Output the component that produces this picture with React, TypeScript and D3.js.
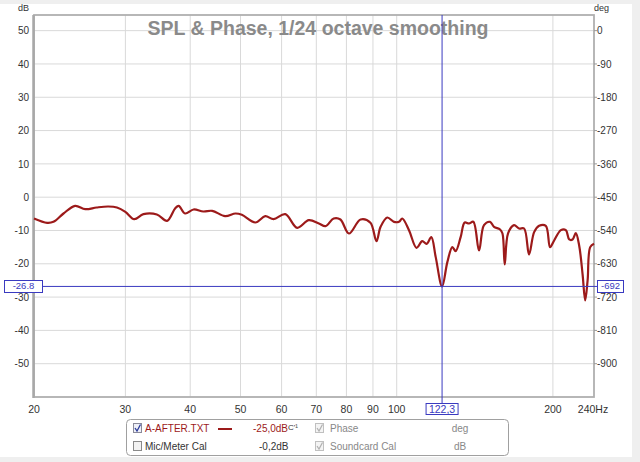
import React from 'react';
import * as d3 from 'd3';

const freqs = [20, 21.2, 21.8, 22.8, 24.0, 25.1, 26.4, 27.8, 28.9, 30.0, 31.2, 32.5, 34.5, 36.1, 37.4, 38.0, 39.1, 40.6, 42.4, 44.1, 46.7, 48.9, 50.3, 53.4, 55.8, 57.9, 61.0, 64.3, 67.7, 70.8, 72.9, 75.6, 77.9, 80.9, 85.2, 89.0, 91.4, 93.1, 95.9, 98.8, 101.0, 102.5, 105.6, 109.2, 112.0, 114.2, 116.6, 118.9, 122.3, 125.2, 128.0, 129.9, 132.8, 135.2, 137.8, 140.5, 144.1, 147.3, 151.3, 154.0, 158.2, 159.9, 161.5, 163.9, 168.3, 172.1, 176.0, 179.9, 184.0, 188.1, 193.8, 197.5, 201.1, 207.2, 211.8, 215.0, 218.2, 221.4, 224.7, 228.1, 230.8, 233.3, 236.0, 240];
const spl = [-6.4, -7.7, -7.4, -4.9, -2.6, -3.6, -3.1, -2.8, -3.1, -4.4, -6.6, -5.1, -5.2, -7.1, -3.4, -2.6, -4.9, -3.7, -4.3, -4.1, -5.7, -4.9, -5.3, -7.6, -5.7, -6.6, -5.1, -9.2, -6.9, -7.9, -8.7, -6.4, -6.7, -10.9, -6.7, -7.7, -13.2, -8.9, -6.1, -7.4, -7.4, -6.4, -9.9, -15.2, -13.2, -14.0, -12.0, -18.0, -26.8, -19.5, -15.0, -16.2, -12.0, -7.6, -7.9, -7.4, -16.0, -8.4, -7.4, -8.9, -9.7, -10.9, -20.2, -10.9, -8.4, -9.4, -9.4, -17.2, -10.5, -8.6, -8.6, -15.0, -13.0, -9.9, -9.9, -12.7, -12.7, -10.8, -14.5, -23.0, -31.0, -25.0, -15.0, -14.0];

const dbTicks = [50, 40, 30, 20, 10, 0, -10, -20, -30, -40, -50];
const degTicks = [0, -90, -180, -270, -360, -450, -540, -630, -720, -810, -900];
const freqGrid = [30, 40, 50, 60, 70, 80, 90, 100, 200];
const freqTicks = [20, 30, 40, 50, 60, 70, 80, 90, 100, 200, 240];
const freqLabels = ['20', '30', '40', '50', '60', '70', '80', '90', '100', '200', '240Hz'];

const cursorFreq = 122.3;
const cursorDb = -26.8;
const cursorDbLabel = '-26.8';
const cursorFreqLabel = '122,3';
const cursorDegLabel = '-692';

const title = 'SPL & Phase, 1/24 octave smoothing';

export default function App() {
  const L = 34, R = 594, T = 15, B = 397;
  const x = d3.scaleLog().domain([20, 240]).range([L, R]);
  const y = d3.scaleLinear().domain([-60, 54.7]).range([B, T]);
  const degToDb = (d: number) => 50 + d / 9;

  const pts: [number, number][] = freqs.map((f, i) => [x(f), y(spl[i])]);
  const line = d3.line().curve(d3.curveCatmullRom.alpha(0.5))(pts) || '';

  const font = '"Liberation Sans", Arial, sans-serif';
  const cx = x(cursorFreq);
  const cy = y(cursorDb);
  const blue = '#3a3ac0';
  const red = '#9c1a1a';

  return (
    <svg width={640} height={462} style={{ position: 'absolute', left: 0, top: 0 }} fontFamily={font}>
      <rect x={0} y={0} width={640} height={462} fill="#efefef" />
      <rect x={0} y={4} width={632} height={453} fill="#ffffff" />

      {/* grid */}
      {dbTicks.map((d) => (
        <line key={'h' + d} x1={L} x2={R} y1={y(d)} y2={y(d)} stroke="#d9d9d9" strokeWidth={1} />
      ))}
      {freqGrid.map((f) => (
        <line key={'v' + f} x1={x(f)} x2={x(f)} y1={T} y2={B} stroke="#d9d9d9" strokeWidth={1} />
      ))}

      {/* frame */}
      <rect x={L} y={T} width={R - L} height={B - T} fill="none" stroke="#b0b0b0" strokeWidth={1.8} />
      <line x1={L - 0.5} x2={L - 0.5} y1={T} y2={B + 1} stroke="#a8a8a8" strokeWidth={2.5} />

      {/* right ticks */}
      {degTicks.map((d) => (
        <line key={'rt' + d} x1={R} x2={R + 3} y1={y(degToDb(d))} y2={y(degToDb(d))} stroke="#999" strokeWidth={1} />
      ))}

      {/* title */}
      <text x={318} y={35} textAnchor="middle" fontSize={19.5} fontWeight="bold" fill="#8a8a8a">{title}</text>

      {/* axis labels */}
      <text x={29} y={11} textAnchor="end" fontSize={9} fill="#333">dB</text>
      <text x={594} y={11} textAnchor="start" fontSize={9} fill="#333">deg</text>
      {dbTicks.map((d) => (
        <text key={'yl' + d} x={29} y={y(d) + 3.7} textAnchor="end" fontSize={10} fill="#333">{d}</text>
      ))}
      {degTicks.map((d) => (
        <text key={'dl' + d} x={597} y={y(degToDb(d)) + 3.7} textAnchor="start" fontSize={10} fill="#333">{d}</text>
      ))}
      {freqTicks.map((f, i) => (
        <text key={'xl' + f} x={x(f) + (i === freqTicks.length - 1 ? -1 : 0)} y={413} textAnchor="middle" fontSize={10.5} fill="#333">{freqLabels[i]}</text>
      ))}

      {/* curve */}
      <path d={line} fill="none" stroke={red} strokeWidth={2.2} strokeLinejoin="round" />

      {/* cursor */}
      <line x1={cx} x2={cx} y1={T} y2={403} stroke={blue} strokeWidth={1} />
      <line x1={43} x2={597} y1={cy} y2={cy} stroke={blue} strokeWidth={1} />
      <rect x={4.5} y={280.5} width={38} height={12} fill="#fff" stroke={blue} strokeWidth={1} />
      <text x={23.5} y={289.3} textAnchor="middle" fontSize={9.5} fill={blue}>{cursorDbLabel}</text>
      <rect x={597.5} y={280.5} width={26} height={12} fill="#fff" stroke={blue} strokeWidth={1} />
      <text x={610.5} y={289.3} textAnchor="middle" fontSize={9.5} fill={blue}>{cursorDegLabel}</text>
      <rect x={cx - 16} y={403.5} width={32} height={11} fill="#fff" stroke={blue} strokeWidth={1} />
      <text x={cx} y={412.5} textAnchor="middle" fontSize={10.5} fill={blue}>{cursorFreqLabel}</text>

      {/* legend */}
      <rect x={126.5} y={419.5} width={382} height={36} rx={4} fill="#fff" stroke="#a0a0a0" strokeWidth={1} />
      <rect x={133.5} y={423.5} width={8} height={9} fill="#eef0f8" stroke="#8a8a9a" />
      <path d="M135,428 L137,431 L140.5,424.5" fill="none" stroke="#2a3a9a" strokeWidth={1.3} />
      <text x={145} y={432} fontSize={10} fill={red}>A-AFTER.TXT</text>
      <line x1={218} x2={232} y1={429} y2={429} stroke={red} strokeWidth={2} />
      <text x={253} y={432} fontSize={10} fill={red}>-25,0dB<tspan fill="#333" fontSize={8} dy={-2}>C'¹</tspan></text>
      <rect x={315.5} y={423.5} width={8} height={9} fill="#f4f4f4" stroke="#c0c0c0" />
      <path d="M317,428 L319,431 L322.5,424.5" fill="none" stroke="#b0b0b0" strokeWidth={1.2} />
      <text x={330} y={432} fontSize={10} fill="#888">Phase</text>
      <text x={460} y={432} textAnchor="middle" fontSize={10} fill="#888">deg</text>

      <rect x={133.5} y={441.5} width={8} height={9} fill="#f2f2f2" stroke="#8a8a8a" />
      <text x={145} y={450} fontSize={10} fill="#333">Mic/Meter Cal</text>
      <text x={259} y={450} fontSize={10} fill="#333">-0,2dB</text>
      <rect x={315.5} y={441.5} width={8} height={9} fill="#f4f4f4" stroke="#c0c0c0" />
      <path d="M317,446 L319,449 L322.5,442.5" fill="none" stroke="#b0b0b0" strokeWidth={1.2} />
      <text x={330} y={450} fontSize={10} fill="#888">Soundcard Cal</text>
      <text x={460} y={450} textAnchor="middle" fontSize={10} fill="#888">dB</text>
    </svg>
  );
}
